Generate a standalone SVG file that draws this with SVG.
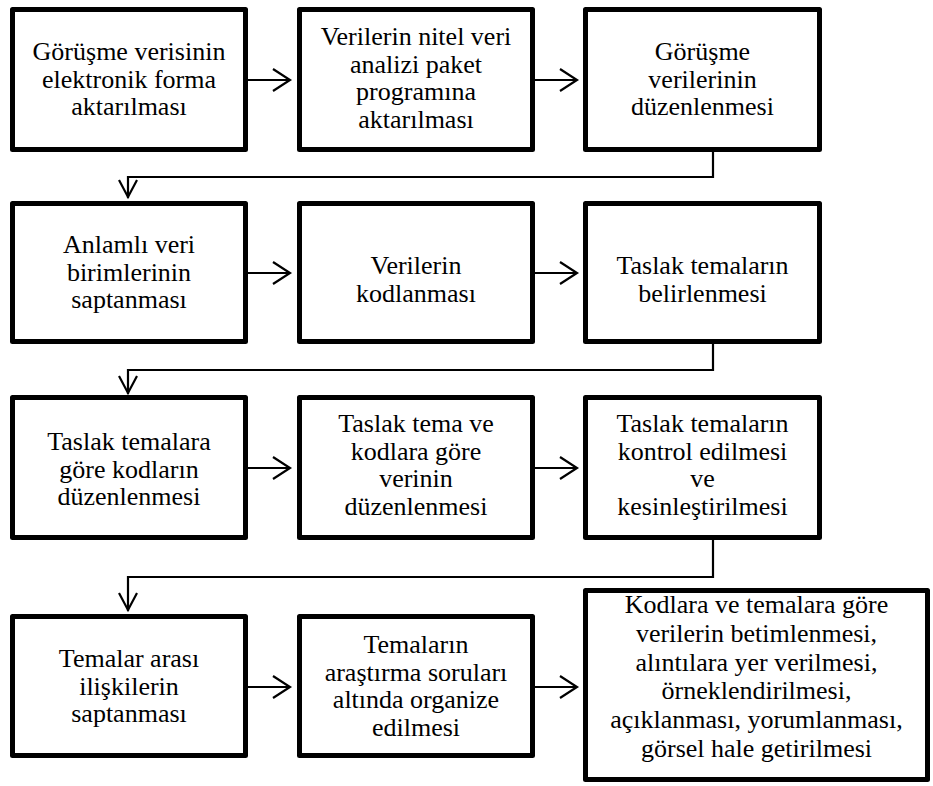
<svg xmlns="http://www.w3.org/2000/svg" width="933" height="786" viewBox="0 0 933 786">
  <defs>
    <style>
      .box { fill: #fff; stroke: #000; stroke-width: 5; stroke-linejoin: round; }
      .lbl { font-size: 26px; fill: #000; text-anchor: middle; }
      .link { fill: none; stroke: #000; stroke-width: 2.2; }
      .head { fill: none; stroke: #000; stroke-width: 2.2; stroke-linejoin: miter; }
    </style>
  </defs>
  <rect width="933" height="786" fill="#fff"/>

  <g font-family="Liberation Serif, Times New Roman, DejaVu Serif, serif">
  <!-- Row 1 -->
  <g id="n1">
    <rect class="box" x="12.5" y="9.5" width="233" height="140"/>
    <text class="lbl" x="129" y="60">Görüşme verisinin</text>
    <text class="lbl" x="129" y="88">elektronik forma</text>
    <text class="lbl" x="129" y="115">aktarılması</text>
  </g>
  <g id="n2">
    <rect class="box" x="299.5" y="9.5" width="233" height="140"/>
    <text class="lbl" x="416" y="45">Verilerin nitel veri</text>
    <text class="lbl" x="416" y="73">analizi paket</text>
    <text class="lbl" x="416" y="100">programına</text>
    <text class="lbl" x="416" y="128">aktarılması</text>
  </g>
  <g id="n3">
    <rect class="box" x="585.5" y="9.5" width="234" height="140"/>
    <text class="lbl" x="702.5" y="60">Görüşme</text>
    <text class="lbl" x="702.5" y="88">verilerinin</text>
    <text class="lbl" x="702.5" y="115">düzenlenmesi</text>
  </g>

  <!-- Row 2 -->
  <g id="n4">
    <rect class="box" x="12.5" y="203.5" width="233" height="138"/>
    <text class="lbl" x="129" y="253">Anlamlı veri</text>
    <text class="lbl" x="129" y="281">birimlerinin</text>
    <text class="lbl" x="129" y="308">saptanması</text>
  </g>
  <g id="n5">
    <rect class="box" x="299.5" y="203.5" width="233" height="138"/>
    <text class="lbl" x="416" y="274">Verilerin</text>
    <text class="lbl" x="416" y="302">kodlanması</text>
  </g>
  <g id="n6">
    <rect class="box" x="585.5" y="203.5" width="234" height="138"/>
    <text class="lbl" x="702.5" y="274">Taslak temaların</text>
    <text class="lbl" x="702.5" y="302">belirlenmesi</text>
  </g>

  <!-- Row 3 -->
  <g id="n7">
    <rect class="box" x="12.5" y="397.5" width="233" height="140"/>
    <text class="lbl" x="129" y="450">Taslak temalara</text>
    <text class="lbl" x="129" y="478">göre kodların</text>
    <text class="lbl" x="129" y="505">düzenlenmesi</text>
  </g>
  <g id="n8">
    <rect class="box" x="299.5" y="397.5" width="233" height="140"/>
    <text class="lbl" x="416" y="432">Taslak tema ve</text>
    <text class="lbl" x="416" y="460">kodlara göre</text>
    <text class="lbl" x="416" y="487">verinin</text>
    <text class="lbl" x="416" y="515">düzenlenmesi</text>
  </g>
  <g id="n9">
    <rect class="box" x="585.5" y="397.5" width="234" height="140"/>
    <text class="lbl" x="702.5" y="432">Taslak temaların</text>
    <text class="lbl" x="702.5" y="460">kontrol edilmesi</text>
    <text class="lbl" x="702.5" y="487">ve</text>
    <text class="lbl" x="702.5" y="515">kesinleştirilmesi</text>
  </g>

  <!-- Row 4 -->
  <g id="n10">
    <rect class="box" x="12.5" y="616.5" width="233" height="139"/>
    <text class="lbl" x="129" y="667">Temalar arası</text>
    <text class="lbl" x="129" y="695">ilişkilerin</text>
    <text class="lbl" x="129" y="722">saptanması</text>
  </g>
  <g id="n11">
    <rect class="box" x="299.5" y="616.5" width="233" height="139"/>
    <text class="lbl" x="416" y="653">Temaların</text>
    <text class="lbl" x="416" y="681">araştırma soruları</text>
    <text class="lbl" x="416" y="708">altında organize</text>
    <text class="lbl" x="416" y="736">edilmesi</text>
  </g>
  <g id="n12">
    <rect class="box" x="585.5" y="590.5" width="342" height="189"/>
    <text class="lbl" x="756.5" y="613">Kodlara ve temalara göre</text>
    <text class="lbl" x="756.5" y="642">verilerin betimlenmesi,</text>
    <text class="lbl" x="756.5" y="671">alıntılara yer verilmesi,</text>
    <text class="lbl" x="756.5" y="699">örneklendirilmesi,</text>
    <text class="lbl" x="756.5" y="728">açıklanması, yorumlanması,</text>
    <text class="lbl" x="756.5" y="757">görsel hale getirilmesi</text>
  </g>
  </g>

  <!-- Connectors -->
  <g id="connectors">
    <!-- horizontal arrows within rows -->
    <path class="link" d="M248,80 H290"/>
    <path class="head" d="M273,69 L290,80 L273,91"/>
    <path class="link" d="M535,80 H577"/>
    <path class="head" d="M560,69 L577,80 L560,91"/>

    <path class="link" d="M248,273 H290"/>
    <path class="head" d="M273,262 L290,273 L273,284"/>
    <path class="link" d="M535,273 H577"/>
    <path class="head" d="M560,262 L577,273 L560,284"/>

    <path class="link" d="M248,468 H290"/>
    <path class="head" d="M273,457 L290,468 L273,479"/>
    <path class="link" d="M535,468 H577"/>
    <path class="head" d="M560,457 L577,468 L560,479"/>

    <path class="link" d="M248,687 H290"/>
    <path class="head" d="M273,676 L290,687 L273,698"/>
    <path class="link" d="M535,687 H577"/>
    <path class="head" d="M560,676 L577,687 L560,698"/>

    <!-- elbow connectors between rows -->
    <path class="link" d="M713,152 V177 H128 V198"/>
    <path class="head" d="M119,180 L128,197 L137,180"/>
    <path class="link" d="M713,344 V370 H128 V394"/>
    <path class="head" d="M119,376 L128,393 L137,376"/>
    <path class="link" d="M713,540 V577 H128 V611"/>
    <path class="head" d="M119,593 L128,610 L137,593"/>
  </g>
</svg>
